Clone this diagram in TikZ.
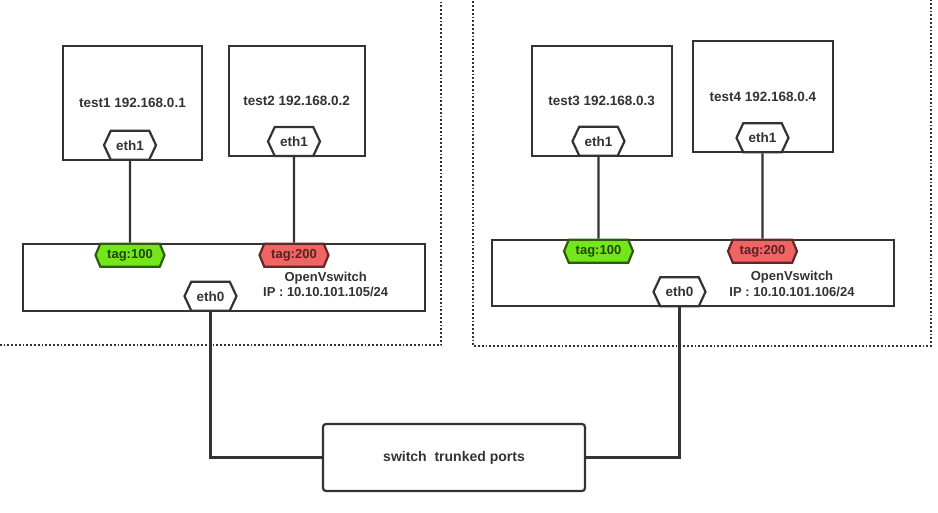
\documentclass[tikz,border=0pt]{standalone}
\usepackage{fontspec}
\setmainfont{Liberation Sans}
\usepackage{tikz}
\usetikzlibrary{shapes.symbols,positioning}
\definecolor{ink}{HTML}{333333}
\definecolor{taggreen}{HTML}{74E61C}
\definecolor{tagred}{HTML}{F06464}
\tikzset{
  host/.style={draw=ink, line width=2.2pt, fill=white, inner sep=0pt,
    font=\fontsize{13.5}{16}\selectfont\bfseries, text=ink},
  port/.style={signal, signal to=west and east, signal pointer angle=130,
    draw=ink, line width=2.2pt, fill=white, inner sep=0pt,
    minimum width=52pt, minimum height=29pt,
    font=\fontsize{13.5}{16}\selectfont\bfseries, text=ink},
  vlan/.style={signal, signal to=west and east, signal pointer angle=135,
    line width=2.2pt, inner sep=0pt, minimum width=69pt, minimum height=23pt,
    font=\fontsize{13}{15}\selectfont\bfseries},
  vgreen/.style={vlan, draw=taggreen!40!black, fill=taggreen, text=taggreen!30!black},
  vred/.style={vlan, draw=tagred!40!black, fill=tagred, text=tagred!35!black},
  ovs/.style={draw=ink, line width=2.2pt, fill=white, inner sep=0pt,
    minimum width=402pt, minimum height=67pt},
  ovstext/.style={align=center, font=\fontsize{13}{15.6}\selectfont\bfseries, text=ink},
  link/.style={draw=ink, line width=2.2pt},
  zone/.style={draw=ink, line width=1.8pt, dotted}
}
\begin{document}
\begin{tikzpicture}[x=1pt, y=-1pt]
  \useasboundingbox (0,0) rectangle (938,513);
  \clip (0,0) rectangle (938,513);

  % Host zones
  \draw[zone] (-10,-10) rectangle (441,345);
  \draw[zone] (473,-10) rectangle (931,346);

  % Left host
  \node[host, minimum width=139.6pt, minimum height=114pt] (test1) at (132.5,102.7) {test1 192.168.0.1};
  \node[host, minimum width=136pt, minimum height=110.3pt] (test2) at (296.7,100.8) {test2 192.168.0.2};
  \node[port] (eth1a) at (130,145.2) {eth1};
  \node[port] (eth1b) at (294,141.5) {eth1};
  \node[ovs] (ovsL) at (223.8,277.2) {};
  \node[ovstext] (ovsLtxt) at (325.7,284.5) {OpenVswitch\\IP : 10.10.101.105/24};
  \node[vgreen] (tag1a) at (130,255.2) {tag:100};
  \node[vred] (tag2a) at (294,255.2) {tag:200};
  \node[port] (eth0a) at (210.5,296.2) {eth0};

  % Right host
  \node[host, minimum width=140pt, minimum height=110pt] (test3) at (601.7,100.7) {test3 192.168.0.3};
  \node[host, minimum width=140.3pt, minimum height=111.3pt] (test4) at (762.8,96.7) {test4 192.168.0.4};
  \node[port] (eth1c) at (598.5,141.2) {eth1};
  \node[port] (eth1d) at (762.5,137.8) {eth1};
  \node[ovs, minimum height=66.6pt] (ovsR) at (692.8,273) {};
  \node[ovstext] (ovsRtxt) at (792,283.7) {OpenVswitch\\IP : 10.10.101.106/24};
  \node[vgreen] (tag1b) at (598.5,251.2) {tag:100};
  \node[vred] (tag2b) at (762.5,251.2) {tag:200};
  \node[port] (eth0b) at (679.5,291.8) {eth0};

  % Physical switch
  \node[host, rounded corners=3pt, minimum width=262pt, minimum height=67pt,
    font=\fontsize{14}{16}\selectfont\bfseries] (trunk) at (454,457.5) {switch\ \ trunked ports};

  % Links
  \draw[link] (eth1a) -- (tag1a);
  \draw[link] (eth1b) -- (tag2a);
  \draw[link] (eth1c) -- (tag1b);
  \draw[link] (eth1d) -- (tag2b);
  \draw[link] (eth0a) |- (trunk.west);
  \draw[link] (eth0b) |- (trunk.east);
\end{tikzpicture}
\end{document}
